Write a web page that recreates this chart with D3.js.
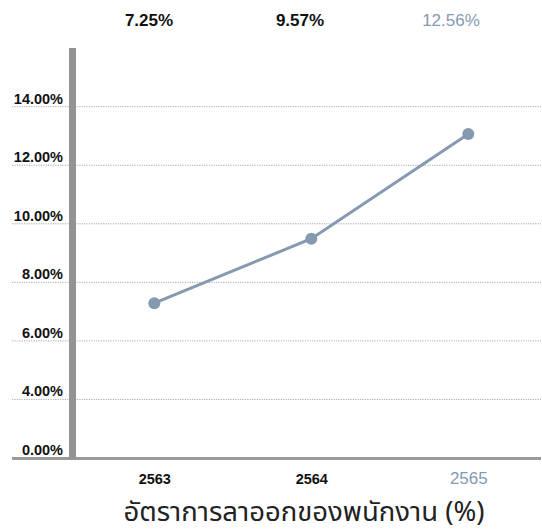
<!DOCTYPE html>
<html><head><meta charset="utf-8">
<script src="https://cdn.jsdelivr.net/npm/d3@7"></script>
<style>html,body{margin:0;padding:0;background:#fff}svg{display:block}</style>
</head><body>
<script>
const years = ["2563", "2564", "2565"];
const plotValues = [7.29, 9.49, 13.07];
const topLabels = ["7.25%", "9.57%", "12.56%"];
const yTickValues = [2, 4, 6, 8, 10, 12, 14];
const yTickLabels = ["0.00%", "4.00%", "6.00%", "8.00%", "10.00%", "12.00%", "14.00%"];
const title = "อัตราการลาออกของพนักงาน (%)";

const W = 542, H = 531;
const accent = "#8599b1";
const svg = d3.select("body").append("svg").attr("width", W).attr("height", H);
const font = "'Liberation Sans', Arial, Helvetica, sans-serif";

const y = d3.scaleLinear().domain([2, 14]).range([458, 106.7]);
const x = d3.scalePoint().domain(years).range([154.3, 468.3]);
const xTop = d3.scalePoint().domain(years).range([149, 451]);

// gridlines
svg.append("g").selectAll("line").data(yTickValues.slice(1)).join("line")
  .attr("x1", 12).attr("x2", 541)
  .attr("y1", d => y(d)).attr("y2", d => y(d))
  .attr("stroke", "#a8a8a8").attr("stroke-width", 1).attr("stroke-dasharray", "1.2,1.2");

// y axis labels
const yAxis = d3.axisLeft(y).tickValues(yTickValues).tickSize(0)
  .tickFormat((d, i) => yTickLabels[i]);
const ga = svg.append("g").attr("transform", "translate(63,0)").call(yAxis);
ga.select(".domain").remove();
ga.selectAll("text").attr("font-family", font).attr("font-size", 14.5).attr("font-weight", "bold")
  .attr("fill", "#111").attr("dy", -3.5).attr("x", 0).attr("text-anchor", "end");

// bottom baseline
svg.append("line").attr("x1", 12).attr("x2", 541).attr("y1", 458.5).attr("y2", 458.5)
  .attr("stroke", "#9a9a9a").attr("stroke-width", 3);
// vertical axis bar
svg.append("rect").attr("x", 69).attr("y", 48).attr("width", 7).attr("height", 411.5)
  .attr("fill", "#939396");

// line
const data = years.map((yr, i) => ({yr, v: plotValues[i]}));
svg.append("path").datum(data)
  .attr("d", d3.line().x(d => x(d.yr)).y(d => y(d.v)))
  .attr("fill", "none").attr("stroke", accent).attr("stroke-width", 3);
svg.append("g").selectAll("circle").data(data).join("circle")
  .attr("cx", d => x(d.yr)).attr("cy", d => y(d.v)).attr("r", 6).attr("fill", accent);

// top value labels
svg.append("g").selectAll("text").data(years).join("text")
  .attr("x", d => xTop(d)).attr("y", 25.5).attr("text-anchor", "middle")
  .attr("font-family", font).attr("font-size", 17)
  .attr("font-weight", (d, i) => i === years.length - 1 ? "normal" : "bold")
  .attr("fill", (d, i) => i === years.length - 1 ? accent : "#111")
  .text((d, i) => topLabels[i]);

// x labels
const xAxis = d3.axisBottom(x).tickSize(0);
const gx = svg.append("g").attr("transform", "translate(0,472)").call(xAxis);
gx.select(".domain").remove();
gx.selectAll("text").attr("font-family", font).attr("dy", 0).attr("y", 12)
  .attr("font-size", (d, i) => i === years.length - 1 ? 17 : 14.5)
  .attr("font-weight", (d, i) => i === years.length - 1 ? "normal" : "bold")
  .attr("fill", (d, i) => i === years.length - 1 ? accent : "#111");

// title
svg.append("text").attr("x", 304).attr("y", 521).attr("text-anchor", "middle")
  .attr("font-family", "'Noto Sans', 'Noto Sans Thai', sans-serif").attr("font-size", 27.5)
  .attr("fill", "#222").text(title);
</script>
</body></html>
